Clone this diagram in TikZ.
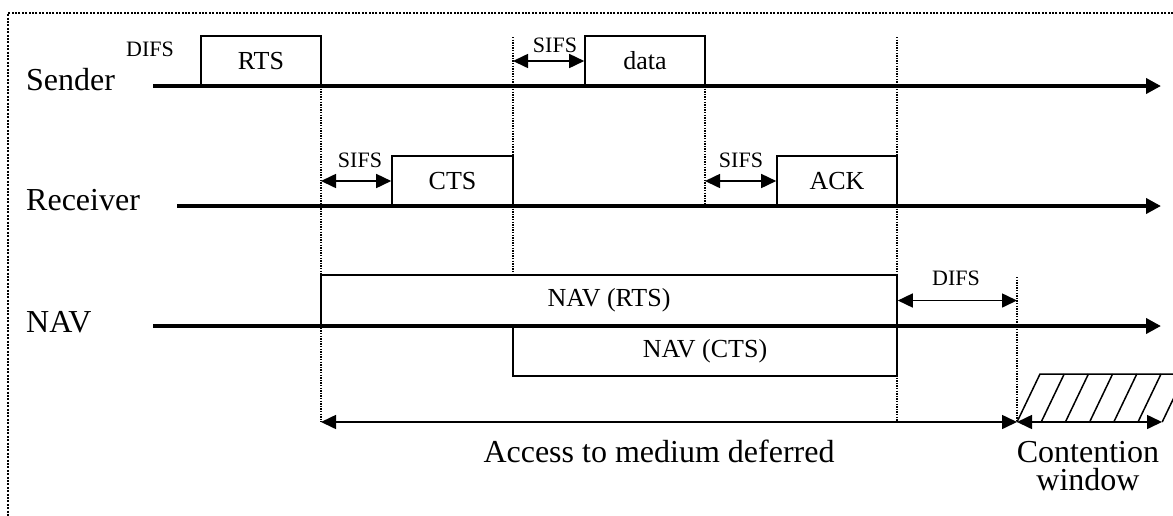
\documentclass[tikz,border=0pt]{standalone}
\usepackage{fontspec}
\setmainfont{Liberation Serif}
\usetikzlibrary{arrows.meta,positioning,calc}

\tikzset{
    frame/.style={line width=2pt, dash pattern=on 2pt off 1.4pt},
    timeline/.style={line width=4pt, -{Triangle[length=15pt,width=15pt]}},
    pkt/.style={draw, line width=1.6pt, minimum height=50pt, inner sep=0pt,
        font=\fontsize{26}{30}\selectfont},
    span/.style={line width=1.6pt,
        {Triangle[length=15pt,width=14pt]}-{Triangle[length=15pt,width=14pt]}},
    guide/.style={line width=1.3pt, dash pattern=on 1.3pt off 1.3pt},
    axislabel/.style={anchor=base west, inner sep=0pt, font=\fontsize{32}{36}\selectfont},
    biglabel/.style={anchor=base, inner sep=0pt, font=\fontsize{32}{28}\selectfont},
    gap/.style={inner sep=0pt, font=\fontsize{22}{24}\selectfont},
}

\begin{document}
\begin{tikzpicture}[x=1pt, y=-1pt]
    \useasboundingbox (0,0) rectangle (1173,515);
    \draw[frame] (1190,13) -- (8,13) -- (8,530);

    % dotted time marks
    \foreach \x/\ya/\yb in {321/86/422, 513/37/275, 705/86/206, 897/37/422, 1017/277/422} {
        \draw[guide] (\x,\ya) -- (\x,\yb);
    }

    % time lines
    \coordinate (snd0) at (153,86);  \coordinate (snd1) at (1161,86);
    \coordinate (rcv0) at (177,206); \coordinate (rcv1) at (1161,206);
    \coordinate (nav0) at (153,326); \coordinate (nav1) at (1161,326);
    \draw[timeline] (snd0) -- (snd1);
    \draw[timeline] (rcv0) -- (rcv1);
    \draw[timeline] (nav0) -- (nav1);
    \node[axislabel] (sender) at (26,90) {Sender};
    \node[axislabel] (receiver) at (26,210) {Receiver};
    \node[axislabel] (navlabel) at (26,332) {NAV};

    % frames
    \node[pkt, minimum width=120pt] (rts) at (261,61) {RTS};
    \node[pkt, minimum width=120pt] (data) at (645,61) {data};
    \node[pkt, minimum width=121pt] (cts) at (452.5,181) {CTS};
    \node[pkt, minimum width=120pt] (ack) at (837,181) {ACK};
    \node[pkt, minimum width=576pt, minimum height=51pt] (navrts) at (609,300.5) {NAV (RTS)};
    \node[pkt, minimum width=384pt] (navcts) at (705,351) {NAV (CTS)};

    % interframe spaces
    \coordinate (t1) at (321,0);
    \coordinate (t2) at (513,0);
    \coordinate (t3) at (705,0);
    \coordinate (t5) at (1017,0);
    \draw[span] (data.west -| t2) -- (data.west);
    \draw[span] (cts.west -| t1) -- (cts.west);
    \draw[span] (ack.west -| t3) -- (ack.west);
    \draw[span] (navrts.east) -- (navrts.east -| t5);
    \node[gap] (difs0) at (150,49) {DIFS};
    \node[gap] (sifs0) at (555,45) {SIFS};
    \node[gap] (sifs1) at (360,160) {SIFS};
    \node[gap] (sifs2) at (741,160) {SIFS};
    \node[gap] (difs1) at (956,278) {DIFS};

    % deferral and contention window
    \coordinate (acc0) at (321,422);
    \coordinate (acc1) at (1017,422);
    \coordinate (cw1) at (1162,422);
    \draw[line width=1.5pt] (acc1) -- (1040,374) -- (1190,374);
    \foreach \k in {1,...,6} {
        \draw[line width=1.5pt] ($(acc1)+(24.2*\k,0)$) -- ++(23,-48);
    }
    \draw[span] (acc0) -- (acc1);
    \draw[span] (acc1) -- (cw1);
    \node[biglabel] (access) at (659,462) {Access to medium deferred};
    \node[biglabel, align=center] (contention) at (1088,490) {Contention\\window};
\end{tikzpicture}
\end{document}
